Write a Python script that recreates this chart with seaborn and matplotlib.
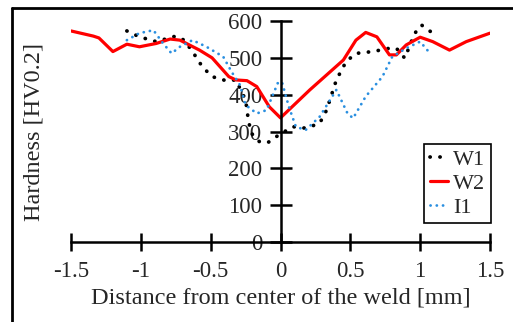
import matplotlib
matplotlib.use("Agg")
import matplotlib.pyplot as plt
from matplotlib.lines import Line2D
import seaborn as sns

# hardness profiles
w1_x = [-1.10, -1.01, -0.89, -0.75, -0.69, -0.63, -0.56, -0.49, -0.39, -0.32, -0.25, -0.23,
        -0.21, -0.15, -0.09, -0.03, 0.03, 0.09, 0.18, 0.28, 0.33, 0.40, 0.47, 0.54, 0.66,
        0.78, 0.83, 0.89, 0.95, 0.97, 1.01, 1.09]
w1_y = [573, 557, 544, 559, 548, 517, 476, 449, 438, 440, 386, 331,
        296, 272, 270, 286, 300, 313, 309, 322, 358, 440, 490, 512, 517,
        526, 526, 499, 557, 571, 589, 567]

w2_x = [-1.50, -1.34, -1.30, -1.20, -1.10, -1.01, -0.89, -0.79, -0.72, -0.58, -0.49, -0.37,
        -0.32, -0.24, -0.17, -0.08, 0.0, 0.21, 0.37, 0.45, 0.54, 0.61, 0.69, 0.78, 0.83,
        0.90, 1.00, 1.09, 1.21, 1.33, 1.50]
w2_y = [573, 559, 554, 517, 537, 530, 539, 551, 548, 521, 500, 449,
        440, 438, 422, 367, 337, 413, 467, 494, 548, 569, 557, 508, 508,
        535, 556, 544, 521, 544, 567]

i1_x = [-1.10, -1.01, -0.91, -0.84, -0.78, -0.72, -0.63, -0.53, -0.41, -0.35, -0.29, -0.25,
        -0.17, -0.10, -0.02, 0.01, 0.06, 0.11, 0.18, 0.28, 0.40, 0.48, 0.52, 0.61, 0.73,
        0.80, 0.90, 1.00, 1.08]
i1_y = [548, 567, 575, 539, 512, 530, 548, 530, 503, 462, 426, 372,
        349, 358, 431, 435, 367, 313, 304, 340, 413, 349, 336, 395, 449,
        503, 526, 544, 508]

x_ticks = [-1.5, -1, -0.5, 0, 0.5, 1, 1.5]
x_tick_labels = ["-1.5", "-1", "-0.5", "0", "0.5", "1", "1.5"]
y_ticks = [0, 100, 200, 300, 400, 500, 600]

sns.set_style("ticks")
plt.rcParams["font.family"] = ["Liberation Serif", "DejaVu Serif"]

fig = plt.figure(figsize=(5.13, 3.22), dpi=100)
ax = fig.add_axes([71 / 513, 1 - 242 / 322, 419 / 513, 221 / 322])

blue = "#2a8fe0"
dots = (0, (0.05, 2.6))
sns.lineplot(x=w1_x, y=w1_y, ax=ax, sort=False, color="black", linewidth=2.7,
             linestyle=dots, dash_capstyle="round")
sns.lineplot(x=w2_x, y=w2_y, ax=ax, sort=False, color="#ff0000", linewidth=2.3)
sns.lineplot(x=i1_x, y=i1_y, ax=ax, sort=False, color=blue, linewidth=2.0,
             linestyle=(0, (0.05, 2.2)), dash_capstyle="round")

ax.set_xlim(-1.5, 1.5)
ax.set_ylim(0, 600)
ax.spines["left"].set_position(("data", 0))
ax.spines["bottom"].set_position(("data", 0))
ax.spines["right"].set_visible(False)
ax.spines["top"].set_visible(False)
for s in ["left", "bottom"]:
    ax.spines[s].set_linewidth(1.8)
    ax.spines[s].set_color("black")
ax.set_xticks(x_ticks)
ax.set_xticklabels(x_tick_labels)
ax.set_yticks(y_ticks)
ax.tick_params(axis="both", direction="inout", width=1.8, color="black", labelsize=16.5)
ax.tick_params(axis="y", length=16, pad=5)
ax.tick_params(axis="x", length=13, pad=7)
ax.set_xlabel("")
ax.set_ylabel("")

fig.text(281 / 513, 1 - 298 / 322, "Distance from center of the weld [mm]",
         ha="center", va="center", fontsize=17.5)
fig.text(34 / 513, 1 - 132 / 322, "Hardness [HV0.2]", rotation=90,
         ha="center", va="center", fontsize=17.5)

handles = [
    Line2D([], [], color="black", linewidth=2.7, linestyle=dots, dash_capstyle="round"),
    Line2D([], [], color="#ff0000", linewidth=2.3),
    Line2D([], [], color=blue, linewidth=2.0, linestyle=(0, (0.05, 2.2)), dash_capstyle="round"),
]
leg = fig.legend(handles, ["W1", "W2", "I1"], loc="upper left",
                 bbox_to_anchor=(424 / 513, 1 - 144 / 322), fontsize=16,
                 handlelength=0.85, handletextpad=0.2, borderpad=0.25,
                 labelspacing=0.15, fancybox=False, framealpha=1, borderaxespad=0)
leg.get_frame().set_edgecolor("black")
leg.get_frame().set_linewidth(1.2)

# frame of the original figure (top and left edges)
fig.add_artist(Line2D([12 / 513, 12 / 513], [0, 1 - 8 / 322], transform=fig.transFigure,
                      color="black", linewidth=2))
fig.add_artist(Line2D([12 / 513, 1], [1 - 8 / 322, 1 - 8 / 322], transform=fig.transFigure,
                      color="black", linewidth=2))

fig.savefig("out.png", dpi=100)
